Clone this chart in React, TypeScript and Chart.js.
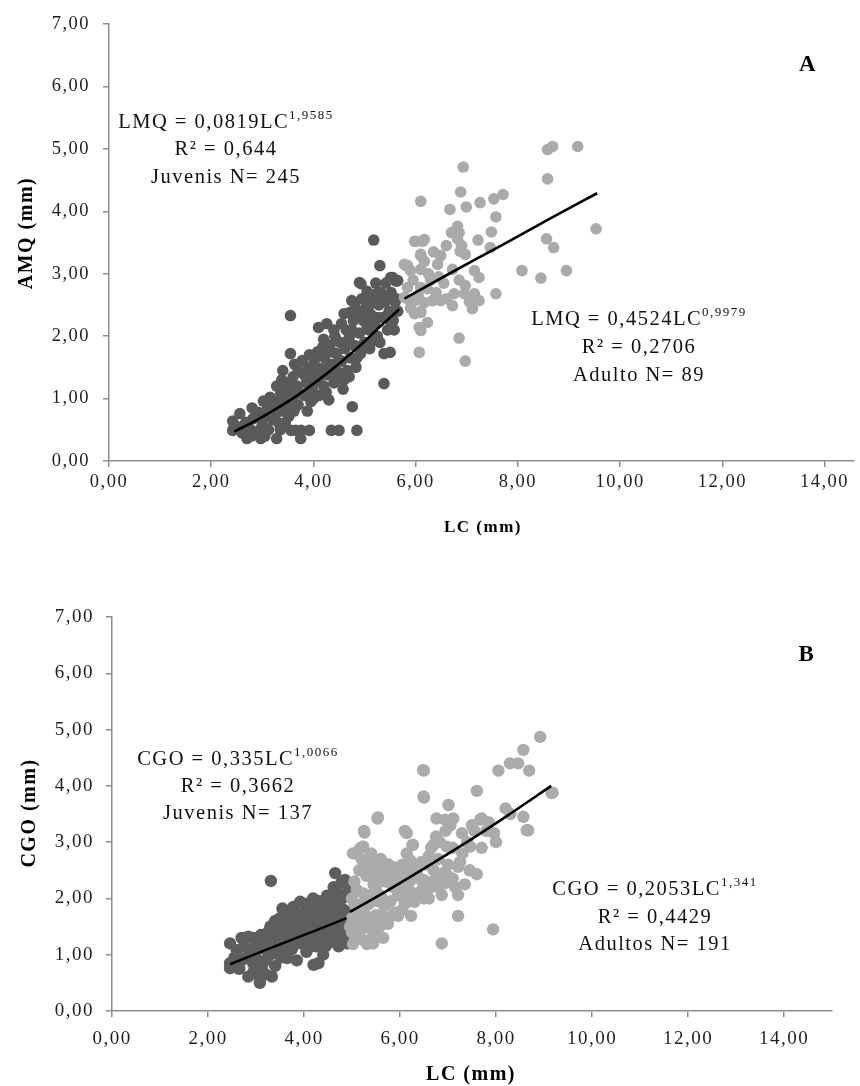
import React, { useEffect, useRef } from "react";
import { Chart, registerables } from "chart.js";
Chart.register(...registerables);

const FONT = "'Liberation Serif', 'Times New Roman', serif";

// ---- tick labels ----
const xTickValues = [0, 2, 4, 6, 8, 10, 12, 14];
const yTickValues = [0, 1, 2, 3, 4, 5, 6, 7];
const fmtTick = (v: number) => v.toFixed(2).replace(".", ",");

type Pt = [number, number];

// ---- Panel A: AMQ vs LC ----
const juvA: Pt[] = [
  [2.42, 0.64], [2.42, 0.49], [2.5, 0.55], [2.56, 0.76], [2.6, 0.45], [2.68, 0.62], [2.7, 0.36], [2.75, 0.52],
  [2.8, 0.85], [2.82, 0.68], [2.88, 0.45], [2.92, 0.78], [2.97, 0.36], [3.0, 0.58], [3.02, 0.96], [3.06, 0.72],
  [3.1, 0.88], [3.12, 0.5], [3.15, 1.02], [3.2, 0.66], [3.22, 0.82], [3.28, 0.36], [3.28, 1.2], [3.3, 0.95],
  [3.33, 0.6], [3.36, 1.08], [3.4, 0.8], [3.4, 1.45], [3.45, 1.25], [3.48, 0.95], [3.5, 1.12], [3.52, 0.72],
  [3.55, 2.33], [3.55, 1.72], [3.56, 0.49], [3.6, 1.35], [3.6, 1.0], [3.63, 1.55], [3.65, 0.49], [3.68, 1.2],
  [3.7, 0.9], [3.75, 0.36], [3.76, 0.49], [3.78, 1.61], [3.8, 1.4], [3.82, 1.05], [3.86, 1.25], [3.9, 1.5],
  [3.92, 0.49], [3.95, 0.95], [3.98, 1.15], [4.0, 1.38], [4.02, 1.62], [4.06, 1.28], [4.1, 2.14], [4.12, 1.05],
  [4.15, 1.48], [4.18, 1.82], [4.2, 1.2], [4.22, 1.65], [4.26, 2.2], [4.28, 1.38], [4.3, 0.98], [4.32, 1.85],
  [4.35, 0.49], [4.38, 1.55], [4.4, 1.25], [4.42, 2.0], [4.45, 1.72], [4.48, 1.42], [4.5, 0.49], [4.52, 1.9],
  [4.55, 1.6], [4.55, 1.4], [4.58, 1.15], [4.6, 2.36], [4.62, 1.8], [4.64, 2.1], [4.66, 1.45], [4.7, 1.98],
  [4.71, 2.38], [4.72, 1.65], [4.75, 2.57], [4.76, 0.87], [4.78, 2.25], [4.81, 2.52], [4.8, 1.85], [4.83, 1.5],
  [4.85, 0.49], [4.87, 2.4], [4.9, 2.86], [4.93, 2.84], [4.9, 2.05], [4.92, 1.72], [4.95, 2.6], [4.98, 2.25],
  [5.0, 1.9], [5.02, 2.45], [5.05, 2.72], [5.08, 2.1], [5.1, 1.8], [5.12, 2.35], [5.15, 2.6], [5.18, 3.54],
  [5.2, 2.2], [5.2, 1.93], [5.22, 2.85], [5.22, 2.68], [5.25, 2.0], [5.28, 2.5], [5.3, 3.13], [5.32, 2.7],
  [5.35, 2.3], [5.38, 1.24], [5.38, 1.72], [5.4, 2.55], [5.42, 2.85], [5.45, 2.1], [5.48, 2.4], [5.5, 1.74],
  [5.51, 2.94], [5.52, 2.7], [5.55, 2.94], [5.56, 2.25], [5.6, 2.55], [5.62, 2.88], [5.65, 2.89], [5.65, 2.4],
  [2.65, 0.58], [2.78, 0.4], [2.95, 0.5], [3.05, 0.4], [3.15, 0.8], [3.25, 0.72], [3.35, 0.5], [3.38, 1.3],
  [3.45, 0.62], [3.5, 0.85], [3.58, 1.2], [3.62, 0.8], [3.7, 1.45], [3.72, 1.1], [3.85, 1.35], [3.88, 0.8],
  [3.92, 1.7], [4.0, 1.0], [4.05, 1.5], [4.08, 1.75], [4.12, 1.35], [4.2, 1.95], [4.25, 1.1], [4.3, 1.5],
  [4.35, 1.75], [4.4, 2.1], [4.45, 1.3], [4.5, 1.6], [4.55, 2.2], [4.6, 1.3], [4.65, 1.9], [4.7, 1.35],
  [4.75, 2.1], [4.8, 2.35], [4.85, 1.65], [4.9, 2.3], [4.95, 1.85], [5.0, 2.35], [5.05, 2.15], [5.1, 2.5],
  [5.15, 2.3], [5.25, 2.3], [5.3, 1.9], [5.35, 2.6], [5.45, 2.65], [5.5, 2.25], [5.58, 2.1], [5.62, 2.6],
];
const adultA: Pt[] = [
  [8.58, 4.99], [8.68, 5.04], [9.17, 5.04], [6.93, 4.71], [8.58, 4.52], [6.88, 4.31], [6.1, 4.16], [6.67, 4.03],
  [6.99, 4.07], [7.26, 4.14], [7.53, 4.2], [7.71, 4.27], [7.57, 3.91], [9.53, 3.72], [6.7, 3.66], [6.85, 3.66],
  [6.82, 3.76], [6.0, 3.52], [6.17, 3.55], [7.48, 3.67], [7.22, 3.54], [6.82, 3.56], [8.56, 3.56], [8.7, 3.42],
  [7.46, 3.42], [6.87, 3.36], [6.97, 3.31], [6.1, 3.29], [6.49, 3.29], [8.08, 3.05], [8.95, 3.05], [8.45, 2.93],
  [5.84, 3.13], [6.1, 3.07], [6.43, 3.15], [6.72, 3.07], [7.15, 3.05], [7.24, 2.94], [7.57, 2.68], [6.97, 2.81],
  [7.15, 2.68], [7.24, 2.57], [6.75, 2.68], [6.95, 2.68], [6.72, 2.49], [7.11, 2.44], [6.49, 2.57], [6.33, 2.57],
  [5.98, 2.57], [6.17, 2.54], [6.1, 2.38], [6.23, 2.22], [6.1, 2.09], [6.85, 1.97], [6.07, 1.74], [6.97, 1.6],
  [5.84, 2.78], [5.88, 2.57], [6.1, 2.78], [6.23, 2.76], [5.98, 3.52], [6.14, 3.52], [5.81, 3.13], [6.1, 3.31],
  [5.9, 2.57], [5.98, 2.36], [6.1, 2.4], [5.78, 2.62], [5.95, 2.9], [6.3, 2.9], [6.55, 2.85], [6.6, 3.45],
  [5.9, 2.45], [6.05, 2.65], [6.4, 2.7], [5.9, 3.05], [6.17, 3.2], [6.29, 2.93], [5.78, 3.15], [6.07, 2.14],
  [6.25, 3.0], [6.45, 2.95], [6.6, 2.6], [6.85, 2.9], [7.05, 2.55], [6.35, 3.35], [6.9, 3.45],
];
const juvTrendA: Pt[] = [
  [2.45, 0.47], [2.9, 0.66], [3.3, 0.85], [3.7, 1.06], [4.1, 1.3], [4.5, 1.56], [4.9, 1.84], [5.3, 2.15], [5.68, 2.43],
];
const adultTrendA: Pt[] = [
  [5.78, 2.6], [6.7, 3.02], [7.6, 3.42], [8.6, 3.87], [9.55, 4.29],
];

// ---- Panel B: CGO vs LC ----
const juvB: Pt[] = [
  [2.46, 1.2], [2.6, 1.08], [2.46, 0.85], [2.46, 0.76], [2.55, 0.95], [2.84, 0.61], [3.08, 0.5], [3.08, 0.6],
  [3.33, 0.61], [2.84, 1.32], [2.94, 0.85], [2.7, 0.9], [2.75, 1.15], [2.9, 1.05], [2.95, 1.3], [3.0, 0.95],
  [3.05, 1.2], [3.1, 1.35], [3.12, 0.78], [3.18, 1.1], [3.2, 0.9], [3.25, 1.4], [3.3, 1.0], [3.31, 2.31],
  [3.35, 1.25], [3.4, 0.8], [3.42, 1.5], [3.45, 1.1], [3.5, 1.3], [3.52, 0.95], [3.55, 1.82], [3.58, 1.4],
  [3.6, 1.15], [3.62, 1.6], [3.65, 0.94], [3.7, 1.3], [3.72, 1.5], [3.75, 1.1], [3.8, 1.7], [3.82, 1.35],
  [3.85, 0.9], [3.88, 1.55], [3.92, 1.94], [3.95, 1.2], [3.98, 1.42], [4.0, 1.75], [4.05, 1.05], [4.08, 1.6],
  [4.1, 1.3], [4.15, 1.85], [4.19, 2.0], [4.2, 0.82], [4.22, 1.45], [4.25, 1.15], [4.28, 1.7], [4.3, 0.85],
  [4.33, 1.3], [4.35, 1.9], [4.38, 1.55], [4.4, 1.0], [4.42, 1.75], [4.45, 1.35], [4.48, 2.05], [4.5, 1.2],
  [4.52, 1.6], [4.55, 1.85], [4.58, 1.26], [4.6, 1.45], [4.62, 2.2], [4.65, 2.45], [4.66, 1.7], [4.7, 1.95],
  [4.72, 1.15], [4.75, 1.55], [4.78, 2.28], [4.8, 1.35], [4.82, 1.8], [4.85, 2.33], [4.86, 1.5], [4.88, 2.05],
  [4.9, 1.2], [4.92, 1.65], [4.93, 2.15], [4.7, 2.1], [4.5, 1.95], [4.0, 1.5], [3.7, 1.7], [3.4, 1.6],
  [2.65, 0.75], [2.7, 1.3], [2.8, 0.95], [2.85, 1.1], [2.95, 0.7], [3.0, 1.15], [3.05, 0.85], [3.15, 1.25],
  [3.2, 0.65], [3.25, 1.15], [3.3, 1.5], [3.38, 1.05], [3.45, 1.35], [3.5, 1.65], [3.55, 1.05], [3.6, 1.3],
  [3.65, 1.55], [3.68, 1.2], [3.75, 1.45], [3.78, 1.85], [3.85, 1.2], [3.9, 1.4], [3.95, 1.6], [4.02, 1.3],
  [4.05, 1.9], [4.12, 1.5], [4.15, 1.15], [4.2, 1.65], [4.3, 1.55], [4.32, 1.95], [4.4, 1.45], [4.45, 1.15],
  [4.5, 1.75], [4.55, 1.4], [4.6, 2.0], [4.65, 1.3], [4.7, 1.6], [4.75, 1.85], [4.8, 2.0], [4.85, 1.3],
  [4.9, 1.75], [4.92, 1.45],
];
const adultB: Pt[] = [
  [8.92, 4.87], [8.57, 4.64], [8.29, 4.4], [8.46, 4.4], [8.69, 4.27], [8.05, 4.27], [6.5, 4.27], [6.5, 3.79],
  [7.6, 3.91], [9.18, 3.88], [7.01, 3.66], [5.53, 3.42], [6.76, 3.42], [6.94, 3.4], [7.11, 3.42], [7.7, 3.42],
  [8.57, 3.45], [8.67, 3.21], [7.96, 3.16], [5.26, 3.17], [6.14, 3.16], [6.26, 2.95], [7.29, 3.16], [7.46, 2.92],
  [6.83, 3.0], [6.97, 2.92], [5.17, 2.89], [5.06, 2.8], [5.38, 2.62], [7.21, 2.56], [7.6, 2.43], [5.79, 2.56],
  [6.03, 2.5], [6.21, 2.68], [6.49, 2.33], [6.83, 2.39], [6.94, 2.27], [6.87, 2.06], [7.21, 2.06], [7.21, 1.69],
  [7.94, 1.45], [6.87, 1.2], [6.03, 2.09], [6.28, 1.97], [5.58, 2.33], [5.24, 2.09], [5.44, 1.67], [5.58, 1.5],
  [5.24, 1.26], [5.44, 1.2], [5.06, 1.26], [4.96, 1.5], [5.13, 1.62], [5.23, 2.92], [5.25, 3.2], [5.54, 3.44],
  [6.48, 4.28], [6.1, 3.2], [5.75, 2.61], [5.94, 2.43], [6.14, 2.8], [6.27, 2.95], [5.46, 2.11], [5.67, 1.86],
  [5.96, 1.69], [6.23, 1.69], [6.3, 1.94], [5.02, 1.19], [5.31, 1.19], [5.44, 1.37], [6.48, 2.18], [5.0, 2.0],
  [5.05, 2.3], [5.1, 1.8], [5.15, 2.5], [5.2, 1.45], [5.3, 2.4], [5.35, 1.9], [5.4, 2.8], [5.5, 2.2],
  [5.55, 1.95], [5.6, 2.7], [5.65, 1.3], [5.7, 2.3], [5.8, 1.95], [5.85, 2.2], [5.9, 1.75], [6.0, 2.35],
  [6.05, 1.8], [6.15, 2.25], [6.2, 2.0], [6.35, 2.45], [6.4, 2.1], [6.55, 2.6], [6.6, 2.0], [6.65, 2.9],
  [6.7, 2.5], [6.75, 3.1], [6.8, 2.2], [7.0, 2.6], [7.05, 3.3], [7.1, 2.35], [7.3, 2.8], [7.35, 2.25],
  [7.5, 3.3], [7.8, 3.2], [8.2, 3.6], [8.64, 3.21], [7.67, 3.4], [6.49, 3.81], [9.16, 3.87], [5.02, 2.8],
  [5.23, 2.92], [5.1, 1.4], [5.3, 1.55], [5.5, 1.7], [5.75, 1.55], [5.0, 1.65], [5.2, 1.9], [5.45, 2.45],
  [5.0, 1.4], [5.05, 1.9], [5.1, 2.15], [5.15, 1.3], [5.2, 2.7], [5.25, 1.75], [5.3, 2.05], [5.35, 2.6],
  [5.4, 1.5], [5.45, 2.25], [5.5, 1.35], [5.55, 2.55], [5.6, 2.05], [5.62, 1.7], [5.7, 2.45], [5.72, 1.9],
  [5.8, 2.3], [5.85, 1.7], [5.88, 2.55], [5.95, 2.05], [6.0, 2.2], [6.05, 2.6], [6.1, 1.9], [6.15, 2.45],
  [6.2, 2.3], [6.25, 2.1], [6.3, 2.55], [6.35, 2.0], [6.4, 2.35], [6.45, 2.65], [6.5, 2.0], [6.55, 2.3],
  [6.6, 2.75], [6.65, 2.2], [6.7, 2.95], [6.75, 2.35], [6.8, 2.7], [6.9, 2.45], [6.95, 3.2], [7.0, 2.4],
  [7.1, 2.9], [7.15, 2.2], [7.25, 2.65], [7.4, 3.0], [7.45, 2.5], [7.55, 3.2], [7.7, 2.9], [7.85, 3.35],
  [8.0, 3.0], [8.3, 3.5],
];
const juvTrendB: Pt[] = [
  [2.46, 0.83], [3.1, 1.05], [3.7, 1.25], [4.3, 1.45], [4.89, 1.65],
];
const adultTrendB: Pt[] = [
  [4.96, 1.76], [5.7, 2.12], [6.5, 2.53], [7.3, 2.95], [8.2, 3.45], [9.15, 4.0],
];

// ---- layout / style configuration ----
interface TextLine { text: string; sup?: string; y: number }
interface TextBlock { cx: number; lines: TextLine[] }
interface PanelCfg {
  juv: Pt[]; adult: Pt[]; juvTrend: Pt[]; adultTrend: Pt[];
  xMax: number;
  area: { left: number; right: number; top: number; bottom: number };
  tickSize: number; tickPadX: number; tickPadY: number;
  juvColor: string; adultColor: string; radius: number;
  yTitle: string; yTitlePos: [number, number]; yTitleSize: number;
  xTitle: string; xTitlePos: [number, number]; xTitleSize: number;
  letter: string; letterPos: [number, number]; letterSize: number;
  textSize: number; supSize: number;
  blocks: TextBlock[];
}

const W = 860;
const H = 543;

const panelA: PanelCfg = {
  juv: juvA, adult: adultA, juvTrend: juvTrendA, adultTrend: adultTrendA,
  xMax: 14.58,
  area: { left: 109, right: 860, top: 22, bottom: 461 },
  tickSize: 18.5, tickPadX: 4, tickPadY: 13,
  juvColor: "#5a5a5a", adultColor: "#aaaaaa", radius: 5.8,
  yTitle: "AMQ (mm)", yTitlePos: [27, 233], yTitleSize: 20,
  xTitle: "LC (mm)", xTitlePos: [483, 528], xTitleSize: 17,
  letter: "A", letterPos: [808, 65], letterSize: 23,
  textSize: 20.5, supSize: 13,
  blocks: [
    { cx: 226, lines: [{ text: "LMQ = 0,0819LC", sup: "1,9585", y: 123 }, { text: "R² = 0,644", y: 150 }, { text: "Juvenis N= 245", y: 178 }] },
    { cx: 639, lines: [{ text: "LMQ = 0,4524LC", sup: "0,9979", y: 320 }, { text: "R² = 0,2706", y: 348 }, { text: "Adulto N= 89", y: 376 }] },
  ],
};

const panelB: PanelCfg = {
  juv: juvB, adult: adultB, juvTrend: juvTrendB, adultTrend: adultTrendB,
  xMax: 15,
  area: { left: 112, right: 832, top: 74, bottom: 468 },
  tickSize: 19, tickPadX: 11, tickPadY: 12,
  juvColor: "#5e5e5e", adultColor: "#ababab", radius: 6.2,
  yTitle: "CGO (mm)", yTitlePos: [30, 270], yTitleSize: 20,
  xTitle: "LC (mm)", xTitlePos: [471, 532], xTitleSize: 20,
  letter: "B", letterPos: [807, 112], letterSize: 23,
  textSize: 20.5, supSize: 13,
  blocks: [
    { cx: 238, lines: [{ text: "CGO = 0,335LC", sup: "1,0066", y: 217 }, { text: "R² = 0,3662", y: 244 }, { text: "Juvenis N= 137", y: 271 }] },
    { cx: 655, lines: [{ text: "CGO = 0,2053LC", sup: "1,341", y: 347 }, { text: "R² = 0,4429", y: 375 }, { text: "Adultos N= 191", y: 402 }] },
  ],
};

const LS = "1.5px";
const setSpacing = (chart: any) => {
  try { (chart.ctx as any).letterSpacing = LS; } catch (e) { /* ignore */ }
};

const spacingPlugin = {
  id: "spacing",
  beforeUpdate: setSpacing,
  beforeLayout: setSpacing,
  beforeDraw: setSpacing,
};

const textPlugin = {
  id: "texts",
  afterDraw(chart: any, _args: any, opts: any) {
    const cfg: PanelCfg = opts.cfg;
    const ctx: CanvasRenderingContext2D = chart.ctx;
    ctx.save();
    (ctx as any).letterSpacing = LS;
    ctx.fillStyle = "#111";
    ctx.textBaseline = "middle";
    for (const b of cfg.blocks) {
      for (const l of b.lines) {
        ctx.font = `${cfg.textSize}px ${FONT}`;
        const w1 = ctx.measureText(l.text).width;
        let w2 = 0;
        if (l.sup) {
          ctx.font = `${cfg.supSize}px ${FONT}`;
          w2 = ctx.measureText(l.sup).width;
        }
        const x0 = b.cx - (w1 + w2) / 2;
        ctx.textAlign = "left";
        ctx.font = `${cfg.textSize}px ${FONT}`;
        ctx.fillText(l.text, x0, l.y);
        if (l.sup) {
          ctx.font = `${cfg.supSize}px ${FONT}`;
          ctx.fillText(l.sup, x0 + w1, l.y - 7);
        }
      }
    }
    ctx.textAlign = "center";
    ctx.font = `bold ${cfg.letterSize}px ${FONT}`;
    ctx.fillStyle = "#000";
    ctx.fillText(cfg.letter, cfg.letterPos[0], cfg.letterPos[1]);
    ctx.font = `bold ${cfg.xTitleSize}px ${FONT}`;
    ctx.fillText(cfg.xTitle, cfg.xTitlePos[0], cfg.xTitlePos[1]);
    ctx.save();
    ctx.translate(cfg.yTitlePos[0], cfg.yTitlePos[1]);
    ctx.rotate(-Math.PI / 2);
    ctx.font = `bold ${cfg.yTitleSize}px ${FONT}`;
    ctx.fillText(cfg.yTitle, 0, 0);
    ctx.restore();
    ctx.restore();
  },
};

const toXY = (pts: Pt[]) => pts.map(([x, y]) => ({ x, y }));

function Panel({ cfg, top }: { cfg: PanelCfg; top: number }) {
  const ref = useRef<HTMLCanvasElement>(null);
  useEffect(() => {
    const canvas = ref.current;
    if (!canvas) return;
    const axisColor = "#8e8e8e";
    const trendStyle = {
      showLine: true, pointRadius: 0, borderColor: "#000", borderWidth: 2.6,
      cubicInterpolationMode: "monotone" as const, fill: false,
    };
    const chart = new Chart(canvas, {
      type: "scatter",
      data: {
        datasets: [
          { label: "Tendência juvenis", data: toXY(cfg.juvTrend), ...trendStyle },
          { label: "Tendência adultos", data: toXY(cfg.adultTrend), ...trendStyle },
          { label: "Adultos", data: toXY(cfg.adult), pointRadius: cfg.radius, pointBackgroundColor: cfg.adultColor, pointBorderWidth: 0, backgroundColor: cfg.adultColor, borderColor: cfg.adultColor },
          { label: "Juvenis", data: toXY(cfg.juv), pointRadius: cfg.radius, pointBackgroundColor: cfg.juvColor, pointBorderWidth: 0, backgroundColor: cfg.juvColor, borderColor: cfg.juvColor },
        ],
      },
      options: {
        responsive: false,
        animation: false,
        events: [],
        layout: { padding: { top: cfg.area.top, left: 0, right: W - cfg.area.right, bottom: 0 } },
        plugins: {
          legend: { display: false },
          tooltip: { enabled: false },
          texts: { cfg },
        } as any,
        scales: {
          x: {
            type: "linear",
            min: 0,
            max: cfg.xMax,
            afterFit: (s: any) => { s.height = H - cfg.area.bottom; },
            afterBuildTicks: (s: any) => { s.ticks = xTickValues.map((v) => ({ value: v })); },
            ticks: {
              callback: (v: any) => fmtTick(Number(v)),
              font: { family: FONT, size: cfg.tickSize },
              color: "#1e1e1e",
              padding: cfg.tickPadX,
              maxRotation: 0,
              autoSkip: false,
              includeBounds: false,
            },
            grid: { drawOnChartArea: false, drawTicks: true, tickLength: 6, color: axisColor, lineWidth: 1.5 },
            border: { display: true, color: axisColor, width: 1.5 },
          },
          y: {
            type: "linear",
            min: 0,
            max: 7,
            afterFit: (s: any) => { s.width = cfg.area.left; },
            afterBuildTicks: (s: any) => { s.ticks = yTickValues.map((v) => ({ value: v })); },
            ticks: {
              callback: (v: any) => fmtTick(Number(v)),
              font: { family: FONT, size: cfg.tickSize },
              color: "#1e1e1e",
              padding: cfg.tickPadY,
              autoSkip: false,
            },
            grid: { drawOnChartArea: false, drawTicks: true, tickLength: 6, color: axisColor, lineWidth: 1.5 },
            border: { display: true, color: axisColor, width: 1.5 },
          },
        },
      } as any,
      plugins: [spacingPlugin, textPlugin],
    });
    return () => chart.destroy();
  }, [cfg]);
  return (
    <canvas
      ref={ref}
      width={W}
      height={H}
      style={{ position: "absolute", left: 0, top, width: W, height: H, display: "block" }}
    />
  );
}

export default function App() {
  return (
    <div style={{ position: "absolute", left: 0, top: 0, width: W, height: 1086, background: "#fff", overflow: "hidden" }}>
      <Panel cfg={panelA} top={0} />
      <Panel cfg={panelB} top={543} />
    </div>
  );
}
